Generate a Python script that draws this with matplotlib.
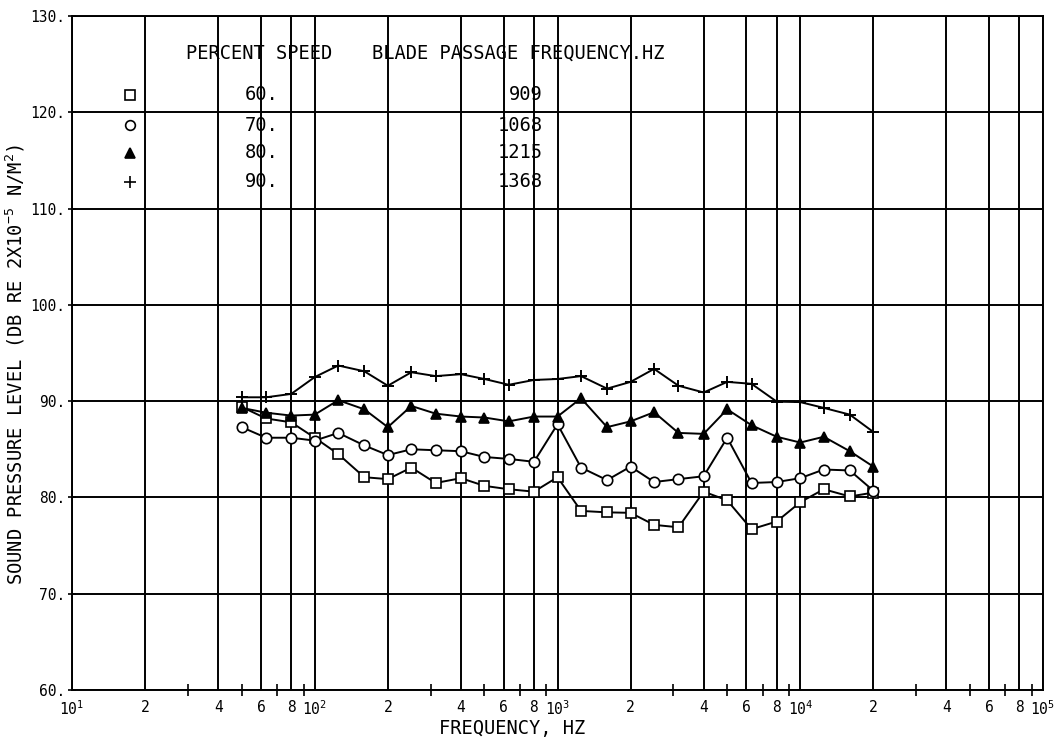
import matplotlib
matplotlib.use('Agg')
import matplotlib.pyplot as plt
from matplotlib.ticker import FixedLocator, NullFormatter


plt.rcParams['font.family']      = 'DejaVu Sans Mono'
plt.rcParams['mathtext.default'] = 'regular'
plt.rcParams['font.size']        = 10


# one-third octave band centre frequencies, Hz
freq = [50, 63, 80, 100, 125, 160, 200, 250, 315, 400, 500, 630, 800,
        1000, 1250, 1600, 2000, 2500, 3150, 4000, 5000, 6300, 8000,
        10000, 12500, 16000, 20000]

spl_60 = [89.4, 88.2, 87.8, 86.2, 84.5, 82.1, 81.9, 83.1, 81.5, 82.0,
          81.2, 80.85, 80.6, 82.1, 78.6, 78.45, 78.4, 77.15, 76.9, 80.6,
          79.7, 76.7, 77.5, 79.5, 80.85, 80.1, 80.5]
spl_70 = [87.3, 86.2, 86.2, 85.9, 86.7, 85.4, 84.4, 85.0, 84.9, 84.8,
          84.2, 84.0, 83.7, 87.6, 83.1, 81.8, 83.2, 81.6, 81.9, 82.2,
          86.2, 81.5, 81.6, 82.0, 82.9, 82.8, 80.7]
spl_80 = [89.3, 88.8, 88.5, 88.6, 90.1, 89.15, 87.3, 89.5, 88.7, 88.4,
          88.3, 87.9, 88.4, 88.4, 90.3, 87.3, 87.9, 88.85, 86.7, 86.6,
          89.15, 87.5, 86.3, 85.7, 86.3, 84.8, 83.2]
spl_90 = [90.4, 90.4, 90.75, 92.5, 93.7, 93.1, 91.6, 93.0, 92.6, 92.8,
          92.3, 91.7, 92.2, 92.3, 92.6, 91.3, 92.0, 93.35, 91.6, 90.9,
          92.0, 91.8, 89.95, 89.9, 89.3, 88.6, 86.8]

speeds     = ['60.', '70.', '80.', '90.']
blade_freq = ['909', '1068', '1215', '1368']

major_x = [10, 20, 40, 60, 80, 100, 200, 400, 600, 800, 1000, 2000, 4000,
           6000, 8000, 10000, 20000, 40000, 60000, 80000, 100000]
major_lbl = ['10$^1$', '2', '4', '6', '8', '10$^2$', '2', '4', '6', '8',
             '10$^3$', '2', '4', '6', '8', '10$^4$', '2', '4', '6', '8',
             '10$^5$']
minor_x = [m * d for d in (10, 100, 1000, 10000) for m in (3, 5, 7, 9)]


fig = plt.figure(figsize=(10.63, 7.42), dpi=100)
ax = fig.add_axes([72/1063, 1 - 690/742, 971/1063, 674/742])

ax.set_xscale('log')
ax.set_xlim(10, 100000)
ax.set_ylim(60, 130)

ax.xaxis.set_major_locator(FixedLocator(major_x))
ax.set_xticklabels(major_lbl)
ax.xaxis.set_minor_locator(FixedLocator(minor_x))
ax.xaxis.set_minor_formatter(NullFormatter())
ax.set_yticks(range(60, 131, 10))
ax.set_yticklabels(['%d.' % v for v in range(60, 131, 10)])

ax.tick_params(which='both', direction='inout', length=8, width=1.2,
               labelsize=10.5, pad=2)
ax.tick_params(axis='x', which='major', length=0, pad=7)
ax.tick_params(axis='y', length=6)
ax.grid(True, which='major', color='black', linewidth=1.4)
for s in ax.spines.values():
    s.set_linewidth(1.4)

style = dict(color='black', linewidth=1.4, markeredgewidth=1.2)
ax.plot(freq, spl_60, marker='s', markersize=7.5, markerfacecolor='white', **style)
ax.plot(freq, spl_70, marker='o', markersize=7.5, markerfacecolor='white', **style)
ax.plot(freq, spl_80, marker='^', markersize=6.5, markerfacecolor='black', **style)
ax.plot(freq, spl_90, marker='+', markersize=9, color='black',
        linewidth=1.4, markeredgewidth=1.4)

# legend block in the upper left
ax.text(0.117, 0.945, 'PERCENT SPEED', transform=ax.transAxes,
        va='center', ha='left', fontsize=13.5)
ax.text(0.309, 0.945, 'BLADE PASSAGE FREQUENCY.HZ', transform=ax.transAxes,
        va='center', ha='left', fontsize=13.5)
rows_y  = [0.883, 0.838, 0.797, 0.754]
markers = [('s', 'white'), ('o', 'white'), ('^', 'black'), ('+', 'black')]
for yy, (m, fc), sp, bf in zip(rows_y, markers, speeds, blade_freq):
    ax.plot([0.0597], [yy], marker=m, markerfacecolor=fc, color='black',
            markersize=9 if m == '+' else 7, markeredgewidth=1.2,
            transform=ax.transAxes, clip_on=False)
    ax.text(0.178, yy, sp, transform=ax.transAxes, va='center',
            ha='left', fontsize=13.5)
    ax.text(0.485, yy, bf, transform=ax.transAxes, va='center',
            ha='right', fontsize=13.5)

ax.set_xlabel('FREQUENCY, HZ', fontsize=13.5)
ax.xaxis.set_label_coords(0.453, -0.043)
ax.set_ylabel('SOUND PRESSURE LEVEL (DB RE 2X10$^{-5}$ N/M$^2$)',
              fontsize=13.5)
ax.yaxis.set_label_coords(-0.046, 0.483)

fig.savefig('out.png', dpi=100)
